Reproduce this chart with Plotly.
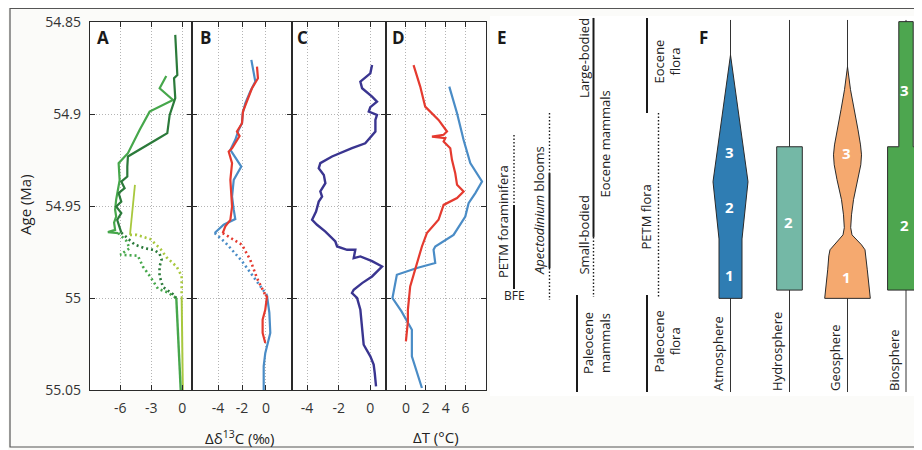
import plotly.graph_objects as go

# ---------------- DATA ----------------
# Panel A  (Δδ13C, ‰)  three green records
A_dark_age = [54.857, 54.867, 54.8788, 54.8806, 54.8914, 54.9005, 54.9104, 54.9132, 54.9186, 54.9231,
              54.9286, 54.934, 54.9367, 54.9403, 54.943, 54.9476, 54.9503, 54.9539, 54.9575, 54.962, 54.9645]
A_dark_val = [-0.68, -0.58, -0.48, -0.8, -0.68, -1.22, -1.45, -2.28, -3.97, -5.26,
              -5.32, -5.32, -5.9, -5.58, -6.16, -5.9, -6.39, -5.9, -6.3, -6.06, -5.9]
A_dark_gap_age = [54.9645, 54.968, 54.971, 54.973, 54.974, 54.976, 54.979, 54.983, 54.988, 54.994, 54.998, 55.0]
A_dark_gap_val = [-5.9, -5.25, -4.6, -3.6, -2.67, -2.2, -2.0, -2.2, -2.2, -1.87, -0.9, -0.58]
A_dark_pre_age = [55.0, 55.05]
A_dark_pre_val = [-0.58, -0.15]

A_mid_age = [54.8793, 54.886, 54.8924, 54.8987, 54.9086, 54.9213, 54.9267, 54.936, 54.9466, 54.952,
             54.9557, 54.959, 54.963, 54.9642, 54.9647]
A_mid_val = [-1.55, -2.19, -0.9, -3.16, -4.12, -5.26, -6.16, -6.06, -6.4, -6.5,
             -6.4, -6.6, -6.5, -7.2, -6.2]
A_mid_gap_age = [54.9647, 54.969, 54.973, 54.9765, 54.977, 54.983, 54.988, 54.995, 54.997, 55.0]
A_mid_gap_val = [-6.2, -5.4, -5.1, -6.0, -4.3, -3.8, -3.15, -2.35, -1.4, -0.58]

A_light_age = [54.9385, 54.9657]
A_light_val = [-4.58, -5.06]
A_light_gap_age = [54.9657, 54.9657, 54.968, 54.973, 54.978, 54.983, 54.988, 54.999]
A_light_gap_val = [-5.06, -4.4, -3.1, -2.16, -1.5, -0.54, -0.06, -0.06]
A_light_pre_age = [54.999, 55.05]
A_light_pre_val = [-0.06, 0.05]

# Panel B
B_blue_age = [54.8706, 54.8779, 54.8824, 54.8878, 54.8941, 54.8996, 54.905, 54.9086, 54.914, 54.9195,
              54.9286, 54.9358, 54.9449, 54.952, 54.9571, 54.9602, 54.9647]
B_blue_val = [-1.22, -1.03, -0.89, -1.31, -1.72, -1.94, -2.0, -2.28, -2.56, -2.97,
              -2.06, -2.69, -2.83, -2.69, -2.56, -3.53, -4.28]
B_blue_gap_age = [54.9647, 54.9698, 54.98, 54.992, 54.9985]
B_blue_gap_val = [-4.28, -3.39, -2.0, -0.61, 0.08]
B_blue_pre_age = [54.9985, 55.008, 55.019, 55.03, 55.037, 55.05]
B_blue_pre_val = [0.08, 0.28, 0.36, -0.06, -0.19, -0.19]

B_red_age = [54.8743, 54.8806, 54.886, 54.8924, 54.8987, 54.905, 54.9095, 54.912, 54.9159, 54.9186,
             54.9204, 54.9267, 54.9358, 54.9503, 54.9575, 54.9611, 54.9647]
B_red_val = [-0.75, -0.67, -1.17, -1.58, -1.92, -2.0, -2.42, -2.2, -2.56, -2.83,
             -3.11, -2.83, -2.97, -2.83, -2.97, -3.39, -3.61]
B_red_gap_age = [54.9647, 54.9666, 54.9711, 54.9793, 54.9892, 54.9983]
B_red_gap_val = [-3.61, -3.11, -2.0, -1.31, -0.75, -0.06]
B_red_pre_age = [54.9983, 54.9992, 55.0064, 55.0118, 55.019, 55.0245]
B_red_pre_val = [-0.06, 0.08, -0.06, -0.28, -0.28, -0.06]

# Panel C
C_age = [54.8734, 54.8779, 54.8824, 54.886, 54.8906, 54.8933, 54.8963, 54.8987, 54.9005, 54.9032,
         54.9095, 54.9159, 54.9186, 54.9231, 54.9267, 54.9295, 54.9331, 54.9376, 54.9421, 54.9449,
         54.9476, 54.953, 54.9575, 54.9602, 54.9639, 54.9675, 54.9693, 54.972, 54.9738, 54.9738,
         54.9783, 54.9774, 54.98, 54.9829, 54.9883, 54.9919, 54.9955, 54.9973, 55.0, 55.0064,
         55.019, 55.0254, 55.0317, 55.0362, 55.0408, 55.048]
C_val = [0.11, 0.0, -0.63, -0.52, 0.11, 0.42, 0.0, -0.1, 0.42, 0.32,
         0.32, -0.32, -1.16, -2.42, -3.16, -3.26, -2.94, -2.84, -3.16, -3.05,
         -3.26, -3.43, -3.68, -3.37, -2.84, -2.42, -2.21, -2.1, -1.47, -0.95,
         -1.05, -0.63, 0.11, 0.74, 0.11, -0.52, -1.05, -1.16, -0.84, -0.63,
         -0.48, -0.42, 0.0, 0.21, 0.28, 0.36]

# Panel D  (ΔT, °C)
D_red_age = [54.8734, 54.8815, 54.8851, 54.896, 54.9032, 54.9095, 54.9113, 54.9123, 54.9131, 54.915,
             54.9168, 54.9186, 54.9249, 54.9322, 54.9385, 54.9421, 54.9457, 54.9494, 54.9575, 54.9647,
             54.972, 54.981, 54.9937, 55.0064, 55.0127, 55.0236]
D_red_val = [0.77, 1.27, 1.44, 1.94, 3.28, 4.13, 3.79, 2.62, 3.96, 3.79,
             4.13, 4.46, 4.63, 4.96, 5.14, 5.8, 5.14, 3.79, 3.28, 2.11,
             1.61, 1.11, 0.43, 0.2, 0.2, 0.0]
D_blue_age = [54.8851, 54.8996, 54.9141, 54.9267, 54.9367, 54.943, 54.9485, 54.9557, 54.9657, 54.972,
              54.9738, 54.981, 54.9837, 54.9874, 55.0, 55.0073, 55.0173, 55.0317, 55.0489]
D_blue_val = [4.36, 5.14, 5.8, 6.47, 7.65, 6.98, 6.3, 5.97, 4.79, 2.95,
              2.78, 2.95, 1.11, -0.91, -1.35, -0.44, 0.6, 0.6, 1.61]

# Tick labels
age_ticks = [54.85, 54.9, 54.95, 55.0, 55.05]
age_ticktext = ["54.85", "54.9", "54.95", "55", "55.05"]
A_ticks, B_ticks, C_ticks, D_ticks = [-6, -3, 0], [-4, -2, 0], [-4, -2, 0], [0, 2, 4, 6]

# Panel E: biotic events (start age, end age, style)
E_segments = [
    ("foram", 54.9114, 54.9495, "dot"), ("foram", 54.9495, 54.9951, "solid"),
    ("apecto", 54.8995, 54.9321, "dot"), ("apecto", 54.9321, 54.9837, "solid"), ("apecto", 54.9837, 55.0011, "dot"),
    ("mamm", 54.8478, 54.9668, "solid"), ("mamm", 54.9668, 54.9995, "dot"),
    ("pmamm", 54.9984, 55.0511, "solid"),
    ("eflora", 54.8478, 54.8995, "solid"), ("petmflora", 54.8995, 54.9995, "dot"),
    ("eflora", 54.9984, 55.0511, "solid"),
]

# Panel F: response profiles (age, relative width)
F_spheres = ["Atmosphere", "Hydrosphere", "Geosphere", "Biosphere"]
F_atm_age = [54.8679, 54.9368, 54.9679, 55.0002]
F_atm_w = [0, 17.5, 11.5, 11.5]
F_hyd_age = [54.9178, 54.9178, 54.9957]
F_hyd_w = [0, 12.8, 12.8]
F_geo_age = [54.8743, 54.8868, 54.8977, 54.9086, 54.9168, 54.9222, 54.9276, 54.9357, 54.9466, 54.9548,
             54.9618, 54.9657, 54.9684, 54.9711, 54.9738, 54.9771, 54.9847, 55.0002]
F_geo_w = [0, 3, 6.5, 10.5, 13, 14, 13.3, 10.5, 6, 4, 3.2, 4.5, 9, 14, 17.5, 18.7, 19.8, 22.8]
F_bio_age = [54.8498, 54.9178, 54.9178, 54.9957]
F_bio_w = [7.2, 7.2, 18.4, 18.4]
F_numbers = {"Atmosphere": [("3", 54.9207), ("2", 54.9505), ("1", 54.9875)],
             "Hydrosphere": [("2", 54.9587)],
             "Geosphere": [("3", 54.9212), ("1", 54.9886)],
             "Biosphere": [("3", 54.887), ("2", 54.9603)]}

# ---------------- STYLE / LAYOUT ----------------
# the page body adds an 8px margin, so the figure is drawn 8px in from the window corner
OFF = 8
WIN_W, WIN_H = 922, 450
W, H = WIN_W - OFF, WIN_H - OFF
FONT = "Open Sans"
def fx(x): return (x - OFF) / W
def fy(y): return 1 - (y - OFF) / H

C_DARK, C_MID, C_LIGHT = "#2b7a3a", "#46a74b", "#a8c83e"
C_BLUE, C_RED, C_PURP = "#4a8cc6", "#e53a2f", "#3a3590"
DOTS = "2px,3px"

fig = go.Figure()

def line(xs, ys, color, ax, ay, dash="solid", width=2.2):
    fig.add_trace(go.Scatter(x=xs, y=ys, mode="lines", xaxis=ax, yaxis=ay,
                             line=dict(color=color, width=width, dash=dash),
                             showlegend=False, hoverinfo="skip"))

# Panel A
line(A_light_val, A_light_age, C_LIGHT, "x", "y", width=1.8)
line(A_light_gap_val, A_light_gap_age, C_LIGHT, "x", "y", dash=DOTS, width=2.6)
line(A_light_pre_val, A_light_pre_age, C_LIGHT, "x", "y", width=2)
line(A_mid_val, A_mid_age, C_MID, "x", "y")
line(A_mid_gap_val, A_mid_gap_age, C_MID, "x", "y", dash=DOTS, width=2.6)
line(A_dark_val, A_dark_age, C_DARK, "x", "y")
line(A_dark_gap_val, A_dark_gap_age, C_DARK, "x", "y", dash=DOTS, width=2.6)
line(A_dark_pre_val, A_dark_pre_age, C_MID, "x", "y", width=2.4)
# Panel B
line(B_blue_val, B_blue_age, C_BLUE, "x2", "y2")
line(B_blue_gap_val, B_blue_gap_age, C_BLUE, "x2", "y2", dash=DOTS, width=2.6)
line(B_blue_pre_val, B_blue_pre_age, C_BLUE, "x2", "y2")
line(B_red_val, B_red_age, C_RED, "x2", "y2")
line(B_red_gap_val, B_red_gap_age, C_RED, "x2", "y2", dash=DOTS, width=2.6)
line(B_red_pre_val, B_red_pre_age, C_RED, "x2", "y2")
# Panel C
line(C_val, C_age, C_PURP, "x3", "y3", width=2.4)
# Panel D
line(D_blue_val, D_blue_age, C_BLUE, "x4", "y4")
line(D_red_val, D_red_age, C_RED, "x4", "y4")

# ---- Panel E / F on a hidden axis pair (x5 in window-pixel-like units, y5 = age)
E_x = {"foram": 514, "apecto": 549.5, "mamm": 593.5, "pmamm": 577, "eflora": 647, "petmflora": 658.5}
for key, a0, a1, style in E_segments:
    line([E_x[key], E_x[key]], [a0, a1], "#1a1a1a", "x5", "y5",
         dash=("solid" if style == "solid" else "1.5px,2px"),
         width=(2 if style == "solid" else 1.4))

F_x = {"Atmosphere": 730.5, "Hydrosphere": 789.5, "Geosphere": 847.5, "Biosphere": 906}
F_fill = {"Atmosphere": "#2f7db3", "Hydrosphere": "#74b8a6", "Geosphere": "#f5a96f", "Biosphere": "#4da64f"}
F_prof = {"Atmosphere": (F_atm_age, F_atm_w), "Hydrosphere": (F_hyd_age, F_hyd_w),
          "Geosphere": (F_geo_age, F_geo_w), "Biosphere": (F_bio_age, F_bio_w)}
for s in F_spheres:
    cx = F_x[s]
    line([cx, cx], [54.8489, 55.0511], "#333333", "x5", "y5", width=1)
for s in F_spheres:
    cx = F_x[s]
    ages, ws = F_prof[s]
    xs = [cx - w for w in ws] + [cx + w for w in ws[::-1]] + [cx - ws[0]]
    ys = list(ages) + list(ages[::-1]) + [ages[0]]
    fig.add_trace(go.Scatter(x=xs, y=ys, mode="lines", fill="toself", fillcolor=F_fill[s],
                             line=dict(color="#2a2a2a", width=1), xaxis="x5", yaxis="y5",
                             showlegend=False, hoverinfo="skip"))

ann = []
def txt(text, x, y, size=13, xref="x5", yref="y5", angle=0, xanchor="center", yanchor="middle",
        color="#222222", bold=False):
    ann.append(dict(text=(f"<b>{text}</b>" if bold else text), x=x, y=y, xref=xref, yref=yref,
                    textangle=angle, xanchor=xanchor, yanchor=yanchor, showarrow=False,
                    font=dict(family=FONT, size=size, color=color)))

for s in F_spheres:
    for num, age in F_numbers[s]:
        txt(num, F_x[s] - 1.5, age, size=15, color="white", bold=True)
    txt(s, F_x[s] - 12, 55.0516, size=13, angle=-90, yanchor="bottom")

txt("PETM foraminifera", 503.5, 54.9902, angle=-90, yanchor="bottom")
txt("BFE", 514, 54.9989, size=12)
txt("<i>Apectodinium</i> blooms", 538.5, 54.9886, angle=-90, yanchor="bottom")
txt("Large-bodied", 584, 54.8924, angle=-90, yanchor="bottom")
txt("Eocene mammals", 605, 54.9467, angle=-90, yanchor="bottom")
txt("Small-bodied", 584, 54.9886, angle=-90, yanchor="bottom")
txt("Paleocene<br>mammals", 596, 55.0245, angle=-90)
txt("PETM flora", 646.5, 54.956, angle=-90)
txt("Eocene<br>flora", 667.5, 54.8717, angle=-90)
txt("Paleocene<br>flora", 667.5, 55.0239, angle=-90)

# panel letters
for lab, x in [("A", 103), ("B", 205), ("C", 302), ("D", 398), ("E", 502), ("F", 703)]:
    txt(lab, fx(x), fy(38), size=17, xref="paper", yref="paper", bold=True, color="#1a1a1a")

txt("Age (Ma)", fx(25), fy(205), size=15, xref="paper", yref="paper", angle=-90, color="#222")
txt("Δδ<sup>13</sup>C (‰)", fx(239), fy(437), size=15, xref="paper", yref="paper", color="#222")
txt("ΔT (°C)", fx(436), fy(437), size=15, xref="paper", yref="paper", color="#222")

# ---- axes
tickfont = dict(family=FONT, size=14, color="#333333")
GRID = dict(showgrid=True, gridcolor="#b4b4b4", griddash="1px,2px", gridwidth=1)
def xaxis(dom, rng, ticks, anchor):
    return dict(domain=[fx(dom[0]), fx(dom[1])], range=rng, anchor=anchor, automargin=False,
                tickvals=ticks, ticktext=[str(t) for t in ticks],
                showline=True, linecolor="#2a2a2a", linewidth=1.4, mirror="ticks",
                ticks="inside", ticklen=5, tickwidth=1.4, tickcolor="#2a2a2a", **GRID,
                zeroline=False, tickfont=tickfont, ticklabelstandoff=5, fixedrange=True)

def yaxis(anchor, labels):
    return dict(domain=[fy(390), fy(22)], range=[55.05, 54.85], anchor=anchor, automargin=False,
                tickvals=age_ticks, ticktext=age_ticktext, showticklabels=labels,
                showline=True, linecolor="#2a2a2a", linewidth=1.4, mirror="ticks",
                ticks="inside", ticklen=5, tickwidth=1.4, tickcolor="#2a2a2a", **GRID,
                zeroline=False, tickfont=tickfont, ticklabelstandoff=5, fixedrange=True)

py_per_age = 368 / 0.2
ext = 6 / py_per_age
fig.update_layout(
    width=W, height=H,
    margin=dict(l=0, r=0, t=0, b=0, pad=0, autoexpand=False),
    paper_bgcolor="#fbfbf9", plot_bgcolor="white",
    font=dict(family=FONT),
    xaxis=xaxis((90, 192), [-8.93, 0.94], A_ticks, "y"),
    xaxis2=xaxis((192, 292), [-6.17, 2.17], B_ticks, "y2"),
    xaxis3=xaxis((292, 386), [-4.95, 0.99], C_ticks, "y3"),
    xaxis4=xaxis((386, 486), [-2.0, 8.05], D_ticks, "y4"),
    yaxis=yaxis("x", True),
    yaxis2=yaxis("x2", False),
    yaxis3=yaxis("x3", False),
    yaxis4=yaxis("x4", False),
    xaxis5=dict(domain=[fx(490), 1], range=[490, 922], visible=False, anchor="y5",
                fixedrange=True, automargin=False),
    yaxis5=dict(domain=[fy(396), fy(16)], range=[55.05 + ext, 54.85 - ext], visible=False,
                anchor="x5", fixedrange=True, automargin=False),
    annotations=ann,
    shapes=[dict(type="rect", xref="paper", yref="paper", x0=fx(10), x1=1.02, y0=fy(447), y1=0.999,
                 line=dict(color="#555555", width=1.2), fillcolor="rgba(0,0,0,0)", layer="below")],
)

fig.write_html("out.html")
